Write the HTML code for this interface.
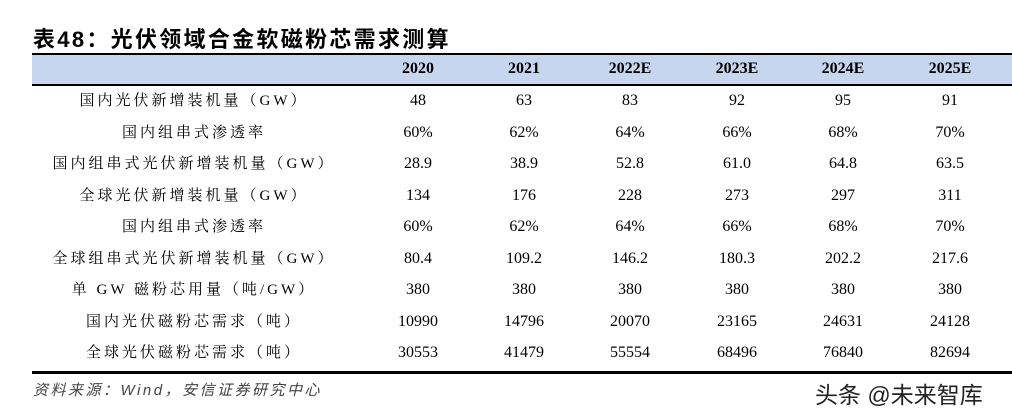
<!DOCTYPE html>
<html><head><meta charset="utf-8"><style>
body{margin:0;width:1012px;height:419px;background:#fff;position:relative;overflow:hidden;font-family:"Liberation Serif","Noto Serif CJK SC",serif;color:#000}
.t{position:absolute;left:33px;top:22px;font-family:"Liberation Sans","Noto Sans CJK SC",sans-serif;font-weight:bold;font-size:22px;letter-spacing:2.3px}
.hb{position:absolute;left:32px;top:53px;width:980px;height:33px;background:#c6d6ee;border-top:2px solid #000;border-bottom:2px solid #000;box-sizing:border-box}
.bl{position:absolute;left:32px;top:371px;width:980px;height:3px;background:#000}
.c{position:absolute;width:110px;text-align:center;font-size:16px;line-height:20px;transform:translateX(-55px)}
.h{font-weight:bold;font-family:"Liberation Serif",serif;font-size:16px}
.l{position:absolute;width:300px;text-align:center;left:44px;font-size:15px;line-height:20px;letter-spacing:3px}
.s{position:absolute;left:33px;top:379px;font-size:15px;font-style:italic;color:#444;letter-spacing:2.5px;font-family:"Liberation Sans","Noto Sans CJK SC",sans-serif}
.w{position:absolute;left:815px;top:376px;font-size:23px;color:#222;font-family:"Liberation Sans","Noto Sans CJK SC",sans-serif}
</style></head><body>
<div class="t">表48：光伏领域合金软磁粉芯需求测算</div>
<div class="hb"></div>
<div class="c h" style="left:418px;top:59px">2020</div>
<div class="c h" style="left:524px;top:59px">2021</div>
<div class="c h" style="left:630px;top:59px">2022E</div>
<div class="c h" style="left:737px;top:59px">2023E</div>
<div class="c h" style="left:843px;top:59px">2024E</div>
<div class="c h" style="left:950px;top:59px">2025E</div>
<div id="rows"></div>
<div class="bl"></div>
<div class="s">资料来源：Wind，安信证券研究中心</div>
<div class="w">头条 @未来智库</div>
<script>
var d=[["国内光伏新增装机量（GW）","48","63","83","92","95","91"],
["国内组串式渗透率","60%","62%","64%","66%","68%","70%"],
["国内组串式光伏新增装机量（GW）","28.9","38.9","52.8","61.0","64.8","63.5"],
["全球光伏新增装机量（GW）","134","176","228","273","297","311"],
["国内组串式渗透率","60%","62%","64%","66%","68%","70%"],
["全球组串式光伏新增装机量（GW）","80.4","109.2","146.2","180.3","202.2","217.6"],
["单 GW 磁粉芯用量（吨/GW）","380","380","380","380","380","380"],
["国内光伏磁粉芯需求（吨）","10990","14796","20070","23165","24631","24128"],
["全球光伏磁粉芯需求（吨）","30553","41479","55554","68496","76840","82694"]];
var xs=[418,524,630,737,843,950],h="";
d.forEach(function(r,i){var y=91+i*31.5;
h+='<div class="l" style="top:'+y+'px">'+r[0]+'</div>';
for(var j=1;j<7;j++)h+='<div class="c" style="left:'+xs[j-1]+'px;top:'+y+'px">'+r[j]+'</div>';});
document.getElementById("rows").innerHTML=h;
</script>
</body></html>
